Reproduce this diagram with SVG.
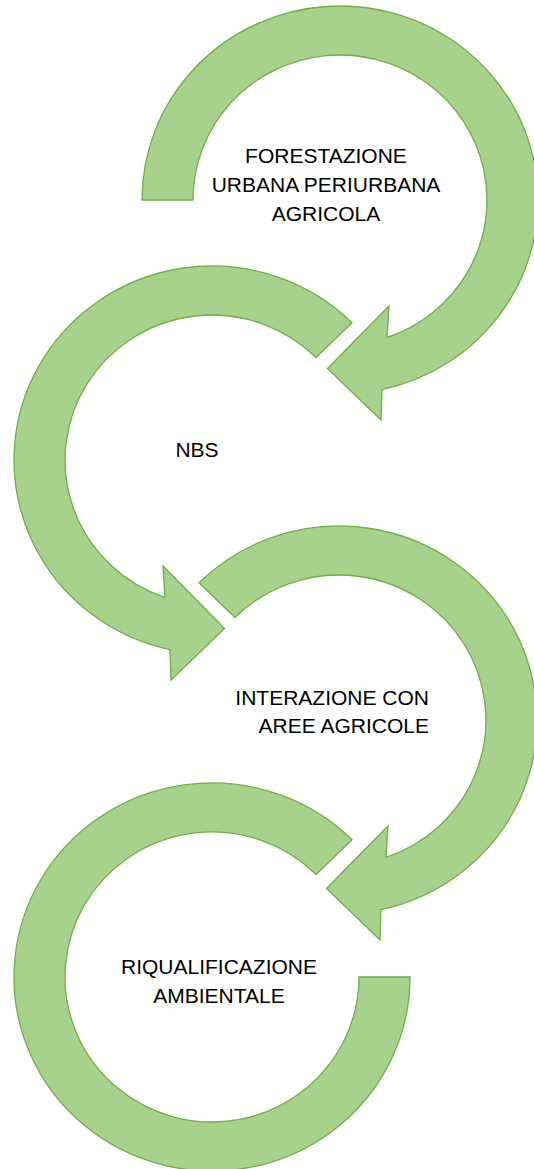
<svg xmlns="http://www.w3.org/2000/svg" width="534" height="1169" viewBox="0 0 534 1169">
<style>
.arrow{fill:#A9D18E;stroke:#70AD47;stroke-width:1.3;stroke-linejoin:miter}
.lbl{font-family:"Liberation Sans",Arial,sans-serif;font-size:21px;fill:#000}
</style>
<rect width="534" height="1169" fill="#fff"/>
<g id="connectors"/>
<g id="node1">
<path class="arrow" d="M142,200 A198,194 0 1 1 382,389.6 L381,420 L327.5,368.5 L389,306 L387,337.4 A147,145 0 1 0 193,200 Z"/>
<text class="lbl" text-anchor="middle"><tspan x="326" y="163">FORESTAZIONE</tspan><tspan x="326" y="192">URBANA PERIURBANA</tspan><tspan x="326" y="221">AGRICOLA</tspan></text>
</g>
<g id="node2">
<path class="arrow" d="M352,322.8 A198,194 0 1 0 170,649.6 L171,680 L224.5,628.5 L163,566 L165,597.4 A147,145 0 1 1 316,357.5 Z"/>
<text class="lbl" text-anchor="middle" x="197" y="457">NBS</text>
</g>
<g id="node3">
<path class="arrow" d="M199,582.8 A198,194 0 1 1 381,909.6 L380,940 L326.5,888.5 L388,826 L386,857.4 A147,145 0 1 0 235,617.5 Z"/>
<text class="lbl" text-anchor="end"><tspan x="429" y="705">INTERAZIONE CON</tspan><tspan x="429" y="733">AREE AGRICOLE</tspan></text>
</g>
<g id="node4">
<path class="arrow" d="M352,839.8 A198,194 0 1 0 410,977 L359,977 A147,145 0 1 1 316,874.5 Z"/>
<text class="lbl" text-anchor="middle"><tspan x="219" y="974">RIQUALIFICAZIONE</tspan><tspan x="219" y="1003">AMBIENTALE</tspan></text>
</g>
</svg>
